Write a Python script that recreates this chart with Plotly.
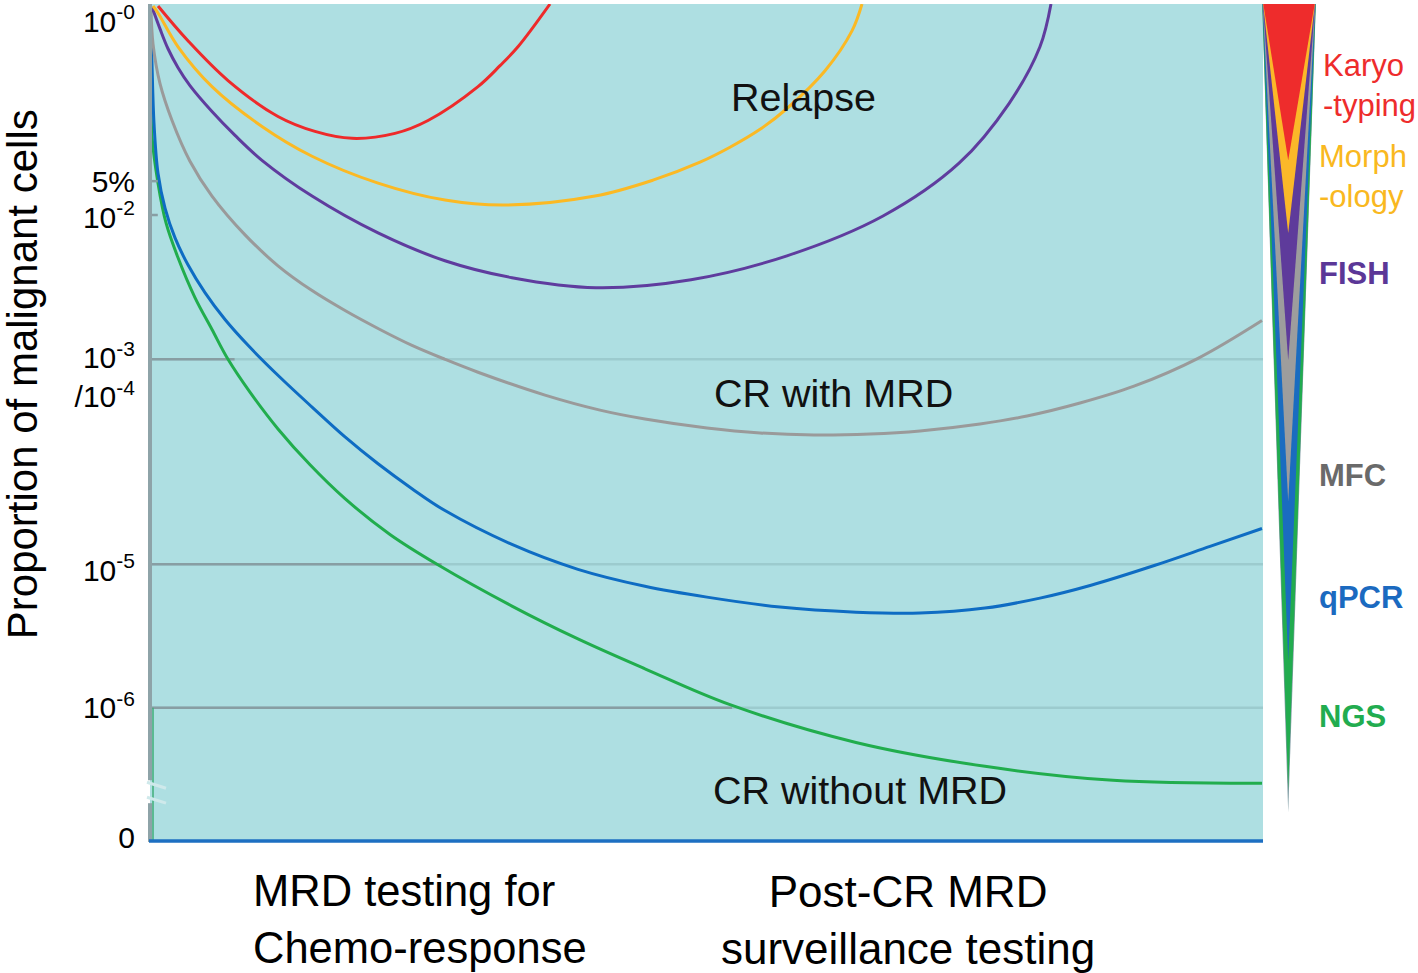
import plotly.graph_objects as go

FONT = "Liberation Sans, Arial, sans-serif"

# ---------------- data (x: time 0-100, y: schematic position of disease level 0-100) ----------------
red_x = [0.72, 3.41, 7.01, 11.50, 14.82, 18.15, 22.01, 24.98, 29.47, 31.45, 33.06, 35.94]
red_y = [99.76, 95.61, 90.86, 86.58, 84.80, 83.97, 84.56, 86.10, 90.14, 92.64, 94.89, 100.0]

yellow_x = [0.27, 0.72, 2.52, 5.57, 10.06, 14.56, 20.49, 26.50, 31.90, 39.98, 45.19, 49.42, 52.11,
            54.81, 57.23, 60.65, 63.07, 63.97]
yellow_y = [99.76, 98.93, 94.89, 90.14, 85.39, 81.83, 78.62, 76.60, 76.01, 77.08, 78.98, 81.12, 82.90,
            85.04, 87.53, 92.04, 96.79, 100.0]

purple_x = [0.18, 0.90, 1.62, 2.52, 3.59, 5.57, 7.64, 10.06, 14.56, 20.49, 26.50, 32.52, 40.07, 48.61,
            57.23, 65.86, 72.69, 77.18, 79.96, 80.95]
purple_y = [99.64, 97.03, 94.66, 92.40, 90.26, 87.17, 84.32, 81.35, 77.08, 72.68, 69.36, 67.34, 66.15,
            67.10, 69.95, 74.70, 81.00, 88.12, 94.89, 100.0]

gray_x = [0.09, 0.27, 0.90, 1.98, 3.59, 5.57, 8.54, 11.50, 14.56, 17.52, 20.66, 23.54, 26.50, 29.47,
          35.49, 40.43, 44.47, 50.04, 54.81, 59.66, 64.69, 69.18, 74.57, 78.80, 83.56, 88.41, 94.16, 99.91]
gray_y = [99.41, 95.25, 90.50, 86.10, 81.24, 77.08, 72.45, 68.76, 65.80, 63.42, 61.16, 59.26, 57.60, 56.06,
          53.33, 51.54, 50.48, 49.41, 48.81, 48.57, 48.69, 49.05, 49.88, 50.83, 52.38, 54.39, 57.72, 62.23]

blue_x = [0.09, 0.18, 0.36, 0.72, 1.35, 2.25, 3.41, 4.94, 6.74, 8.98, 11.68, 14.56, 17.52, 20.49, 23.54,
          26.50, 32.52, 38.45, 44.47, 50.04, 56.60, 63.43, 69.18, 75.02, 79.96, 84.55, 90.30, 95.24, 99.91]
blue_y = [97.62, 92.87, 85.75, 79.81, 75.65, 72.09, 68.88, 65.56, 62.35, 59.03, 55.46, 51.90, 48.34, 45.13,
          42.16, 39.55, 35.51, 32.54, 30.52, 29.22, 28.03, 27.43, 27.32, 27.91, 29.10, 30.64, 33.02, 35.27, 37.41]

green_x = [0.09, 0.18, 0.72, 1.44, 2.52, 4.04, 5.57, 7.01, 8.98, 11.50, 14.38, 17.52, 21.56, 25.79,
           32.52, 38.45, 44.47, 52.11, 63.43, 75.02, 86.52, 99.91]
green_y = [89.31, 84.20, 78.62, 73.87, 69.71, 64.96, 61.16, 57.60, 53.68, 49.29, 45.01, 40.97, 36.70, 33.14,
           28.15, 24.23, 20.67, 16.39, 11.88, 9.03, 7.36, 7.01]

# y tick labels and their positions on the schematic scale
tick_text = ["10<sup>-0</sup>", "5%", "10<sup>-2</sup>", "10<sup>-3</sup><br>/10<sup>-4</sup>",
             "10<sup>-5</sup>", "10<sup>-6</sup>", "0"]
tick_pos = [97.92, 78.86, 74.58, 55.46, 32.42, 16.03, 0.48]
minor_tick_pos = [78.86, 74.82]          # short tick marks at 5% and 10^-2
grid_pos = [57.60, 33.14, 16.03]         # 10^-3, 10^-5, 10^-6 reference lines
grid_dark_end = [7.6, 26.2, 52.3]        # darker part of each line (up to NGS curve)

# detection-limit funnel (methods, lowest detectable level on the same scale)
methods = ["Outer", "NGS", "qPCR", "MFC", "FISH", "Morphology", "Karyotyping"]
method_limit = [3.56, 6.18, 21.62, 40.62, 57.48, 72.68, 81.35]
method_color = ["#7f9ca3", "#22ac4f", "#1a6cc0", "#9d9d9d", "#5e3b9b", "#fbb829", "#ee2c2c"]
method_halfwidth = [26.9, 26.7, 26.5, 26.3, 26.1, 25.9, 25.7]

# ---------------- figure ----------------
W, H = 1418, 973
ML, MB = 150, 131
PW, PH = W - ML, H - MB


def pxx(x):
    return (x - ML) / PW


def pxy(y):
    return (PH - y) / PH


fig = go.Figure()

curves = [
    (green_x, green_y, "#21ad4d"),
    (blue_x, blue_y, "#0e6cc3"),
    (gray_x, gray_y, "#9a9a9a"),
    (purple_x, purple_y, "#5f3c9e"),
    (yellow_x, yellow_y, "#fbb924"),
    (red_x, red_y, "#ee2a2a"),
]
for cx, cy, col in curves:
    fig.add_trace(go.Scatter(x=cx, y=cy, mode="lines",
                             line=dict(color=col, width=3, shape="spline", smoothing=1.0),
                             hoverinfo="skip", showlegend=False, xaxis="x", yaxis="y"))

for lim, col, hw in zip(method_limit, method_color, method_halfwidth):
    fig.add_trace(go.Scatter(x=[-hw, hw, -0.8, -hw], y=[100, 100, lim, 100], mode="lines",
                             fill="toself", fillcolor=col, line=dict(width=0, color=col),
                             hoverinfo="skip", showlegend=False, xaxis="x2", yaxis="y2"))

main_right = 1113 / PW
shapes = [
    dict(type="rect", xref="x domain", yref="y domain", x0=0, x1=1, y0=0, y1=1,
         fillcolor="#aedfe2", line=dict(width=0), layer="below"),
]
for gp, ge in zip(grid_pos, grid_dark_end):
    shapes.append(dict(type="line", xref="x", yref="y", x0=0, x1=100, y0=gp, y1=gp,
                       line=dict(color="#9ccbce", width=2.5), layer="below"))
    shapes.append(dict(type="line", xref="x", yref="y", x0=0, x1=ge, y0=gp, y1=gp,
                       line=dict(color="#889ea3", width=2.5), layer="below"))
for mp in minor_tick_pos:
    shapes.append(dict(type="line", xref="x", yref="y", x0=0, x1=0.7, y0=mp, y1=mp,
                       line=dict(color="#889ea3", width=2.5)))
# left axis line with break, bottom axis line
shapes += [
    dict(type="line", xref="paper", yref="paper", x0=pxx(150), x1=pxx(150), y0=pxy(780), y1=1,
         line=dict(color="#8ea3a8", width=4)),
    dict(type="line", xref="paper", yref="paper", x0=pxx(150), x1=pxx(150), y0=0, y1=pxy(803),
         line=dict(color="#8ea3a8", width=4)),
    dict(type="line", xref="paper", yref="paper", x0=pxx(153), x1=pxx(153), y0=pxy(842), y1=pxy(707),
         line=dict(color="#3fae78", width=1.5)),
    dict(type="line", xref="paper", yref="paper", x0=pxx(147), x1=pxx(166), y0=pxy(782), y1=pxy(788),
         line=dict(color="#cfe9eb", width=3)),
    dict(type="line", xref="paper", yref="paper", x0=pxx(147), x1=pxx(166), y0=pxy(797), y1=pxy(803),
         line=dict(color="#cfe9eb", width=3)),
    dict(type="line", xref="paper", yref="paper", x0=pxx(149), x1=main_right, y0=pxy(841), y1=pxy(841),
         line=dict(color="#1d6fc2", width=3.5)),
]

ann = []
# labels inside the chart
for txt, x, y in [("Relapse", 58.67, 88.95), ("CR with MRD", 61.37, 53.56), ("CR without MRD", 63.79, 6.18)]:
    ann.append(dict(text=txt, x=x, y=y, xref="x", yref="y", showarrow=False,
                    font=dict(size=39.5, color="#111111", family=FONT)))
# y-axis title
ann.append(dict(text="Proportion of malignant cells", x=pxx(22), y=pxy(372), xref="paper", yref="paper",
                xanchor="center", yanchor="middle",
                showarrow=False, textangle=-90, font=dict(size=42, color="#000000", family=FONT)))
# x-axis phase labels
ann.append(dict(text="MRD testing for<br>Chemo-response", x=pxx(251), y=pxy(920), xref="paper", yref="paper",
                xanchor="left", yanchor="middle", align="left", showarrow=False,
                font=dict(size=43.5, color="#000000", family=FONT)))
ann.append(dict(text="Post-CR MRD<br>surveillance testing", x=pxx(908), y=pxy(920), xref="paper", yref="paper",
                xanchor="center", yanchor="middle", align="center", showarrow=False,
                font=dict(size=44, color="#000000", family=FONT)))
# funnel labels
for txt, x, y, col in [
    ("Karyo<br>-typing", 1321, 82, "#ee2c2c"),
    ("Morph<br>-ology", 1317, 173, "#f9b820"),
    ("<b>FISH</b>", 1317, 271, "#5b3797"),
    ("<b>MFC</b>", 1317, 474, "#6a6a6a"),
    ("<b>qPCR</b>", 1317, 596, "#1b6ac0"),
    ("<b>NGS</b>", 1317, 716, "#22ac4f"),
]:
    ann.append(dict(text=txt, x=pxx(x), y=pxy(y), xref="paper", yref="paper", xanchor="left",
                    yanchor="middle", align="left", showarrow=False,
                    font=dict(size=31, color=col, family=FONT)))

fig.update_layout(
    width=W, height=H,
    margin=dict(l=ML, r=0, t=0, b=MB, pad=0),
    paper_bgcolor="white", plot_bgcolor="rgba(0,0,0,0)",
    showlegend=False,
    xaxis=dict(domain=[0, main_right], range=[0, 100], showgrid=False, zeroline=False,
               showline=False, showticklabels=False, ticks=""),
    yaxis=dict(range=[0, 100], showgrid=False, zeroline=False, showline=False,
               tickvals=tick_pos, ticktext=tick_text, ticks="", ticklabelstandoff=14,
               ticklabeloverflow="allow",
               tickfont=dict(size=30, color="#000000", family=FONT)),
    xaxis2=dict(domain=[pxx(1258), pxx(1320)], range=[-31, 31], visible=False, anchor="y2"),
    yaxis2=dict(domain=[0, 1], range=[0, 100], visible=False, anchor="x2"),
    shapes=shapes,
    annotations=ann,
)

fig.write_html("out.html", config={"displayModeBar": False},
               post_script="document.body.style.margin='0px';")
